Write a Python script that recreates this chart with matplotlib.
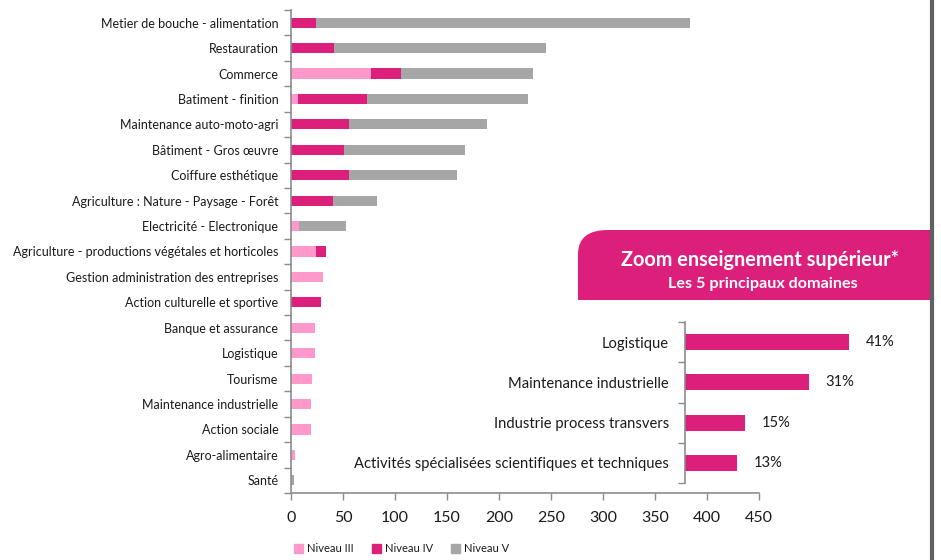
import matplotlib
matplotlib.use("Agg")
import matplotlib.pyplot as plt
from matplotlib.patches import Patch, PathPatch
from matplotlib.path import Path
from matplotlib.lines import Line2D

plt.rcParams['font.family'] = ['Lato', 'DejaVu Sans']

# Données - graphique principal (de haut en bas)
domaines = [
    "Metier de bouche - alimentation", "Restauration", "Commerce",
    "Batiment - finition", "Maintenance auto-moto-agri", "Bâtiment - Gros œuvre",
    "Coiffure esthétique", "Agriculture : Nature - Paysage - Forêt",
    "Electricité - Electronique", "Agriculture - productions végétales et horticoles",
    "Gestion administration des entreprises", "Action culturelle et sportive",
    "Banque et assurance", "Logistique", "Tourisme", "Maintenance industrielle",
    "Action sociale", "Agro-alimentaire", "Santé",
]
niveau_3 = [0, 0, 77, 7, 0, 0, 0, 0, 8, 24, 31, 0, 23, 23, 20, 19, 19, 4, 0]
niveau_4 = [24, 41, 29, 66, 56, 51, 56, 40, 0, 10, 0, 29, 0, 0, 0, 0, 0, 0, 0]
niveau_5 = [360, 204, 127, 155, 132, 116, 104, 43, 45, 0, 0, 0, 0, 0, 0, 0, 0, 0, 3]
x_ticks = [0, 50, 100, 150, 200, 250, 300, 350, 400, 450]

# Données - zoom enseignement supérieur
sup_domaines = ["Logistique", "Maintenance industrielle", "Industrie process transvers",
                "Activités spécialisées scientifiques et techniques"]
sup_pct = [41, 31, 15, 13]

couleurs = {"III": "#FF99CC", "IV": "#DB1F7B", "V": "#A6A6A6"}
gris_axe = "#8C8C8C"
texte = "#1A1A1A"

W, H = 941, 560
fig = plt.figure(figsize=(W / 100, H / 100), dpi=100)

def fx(px):
    return px / W

def fy(py):
    return 1 - py / H

# Graphique principal
ax = fig.add_axes([fx(291), fy(493), fx(759) - fx(291), fy(10) - fy(493)])
n = len(domaines)
y = list(range(n))
left4 = niveau_3
left5 = [a + b for a, b in zip(niveau_3, niveau_4)]
h = 0.4
ax.barh(y, niveau_3, height=h, color=couleurs["III"])
ax.barh(y, niveau_4, left=left4, height=h, color=couleurs["IV"])
ax.barh(y, niveau_5, left=left5, height=h, color=couleurs["V"])
ax.set_ylim(n - 0.5, -0.5)
ax.set_xlim(0, 450)
ax.set_yticks(y)
ax.set_yticklabels(domaines, fontsize=9.0, color=texte)
ax.tick_params(axis='y', length=0, pad=9)
ax.set_yticks([i - 0.5 for i in range(n + 1)], minor=True)
ax.tick_params(axis='y', which='minor', length=5, color=gris_axe, width=1)
ax.set_xticks(x_ticks)
ax.tick_params(axis='x', length=5, color=gris_axe, width=1, labelsize=11.5,
               labelcolor=texte, pad=8)
for s in ['top', 'right']:
    ax.spines[s].set_visible(False)
for s in ['left', 'bottom']:
    ax.spines[s].set_color(gris_axe)
    ax.spines[s].set_linewidth(1.2)

# Légende
handles = [Patch(color=couleurs[k]) for k in ["III", "IV", "V"]]
fig.legend(handles, ["Niveau III", "Niveau IV", "Niveau V"], loc='center left',
           bbox_to_anchor=(fx(284), fy(549)), ncol=3, frameon=False, fontsize=8,
           handlelength=0.8, handleheight=0.8, handletextpad=0.4, columnspacing=1.6,
           labelcolor=texte)

# Encadré - en-tête rose avec coin arrondi
x0, x1, yt, yb, r = 578, 932, 230, 300, 30
verts = [(fx(x0), fy(yb)), (fx(x1), fy(yb)), (fx(x1), fy(yt)), (fx(x0 + r), fy(yt)),
         (fx(x0), fy(yt)), (fx(x0), fy(yt + r * 0.8)), (fx(x0), fy(yb))]
codes = [Path.MOVETO, Path.LINETO, Path.LINETO, Path.LINETO,
         Path.CURVE3, Path.CURVE3, Path.CLOSEPOLY]
fig.patches.append(PathPatch(Path(verts, codes), facecolor=couleurs["IV"],
                             edgecolor='none', transform=fig.transFigure))
fig.text(fx(760), fy(260), "Zoom enseignement supérieur*", color='white',
         fontsize=14.3, fontweight='bold', ha='center', va='center')
fig.text(fx(763), fy(284), "Les 5 principaux domaines", color='white',
         fontsize=11.6, fontweight='bold', ha='center', va='center')

# Bordure droite
fig.add_artist(Line2D([fx(932), fx(932)], [0, 1], color="#606060", linewidth=3,
                      transform=fig.transFigure))

# Graphique du zoom
ax2 = fig.add_axes([fx(685), fy(483), fx(925) - fx(685), fy(322) - fy(483)])
y2 = list(range(len(sup_domaines)))
ax2.barh(y2, sup_pct, height=0.4, color=couleurs["IV"])
ax2.set_ylim(len(sup_domaines) - 0.5, -0.5)
ax2.set_xlim(0, 60)
ax2.set_yticks(y2)
ax2.set_yticklabels(sup_domaines, fontsize=10.6, color=texte)
ax2.tick_params(axis='y', length=0, pad=11.5)
ax2.set_yticks([i - 0.5 for i in range(len(sup_domaines) + 1)], minor=True)
ax2.tick_params(axis='y', which='minor', length=5, color=gris_axe, width=1)
ax2.set_xticks([])
for s in ['top', 'right', 'bottom']:
    ax2.spines[s].set_visible(False)
ax2.spines['left'].set_color(gris_axe)
ax2.spines['left'].set_linewidth(1.2)
for yi, v in zip(y2, sup_pct):
    ax2.text(v + 4.2, yi, f"{v}%", va='center', ha='left', fontsize=10.6, color=texte)
ax2.patch.set_alpha(0)

fig.savefig("out.png", dpi=100)
